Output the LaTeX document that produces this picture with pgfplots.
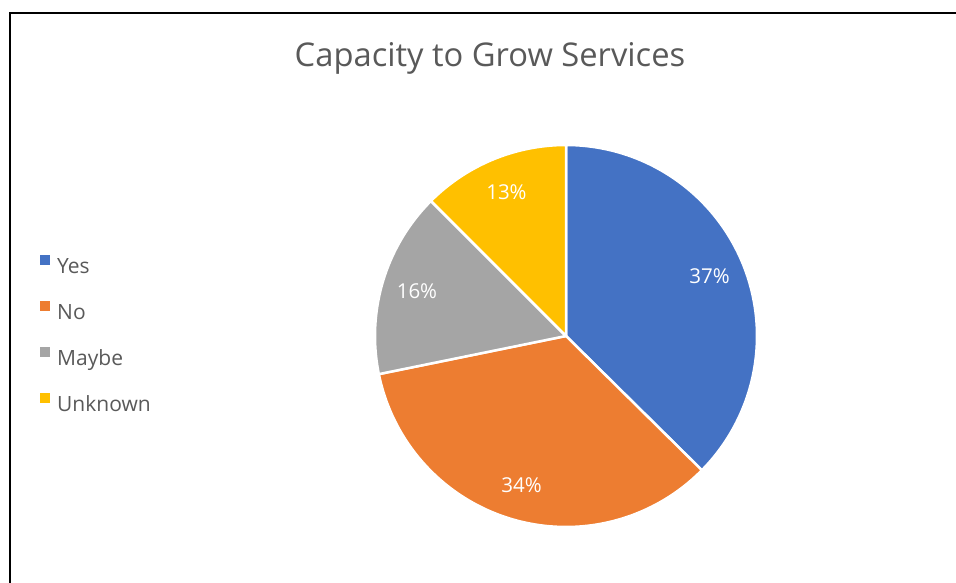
\documentclass[border=0pt]{standalone}
\usepackage{pgfplots}
\pgfplotsset{compat=1.18}
\usepackage{pgfplotstable}
\usepackage{fontspec}
\setmainfont{Open Sans}
\definecolor{pieBlue}{HTML}{4472C4}
\definecolor{pieOrange}{HTML}{ED7D31}
\definecolor{pieGray}{HTML}{A5A5A5}
\definecolor{pieGold}{HTML}{FFC000}
\definecolor{txt}{HTML}{595959}

\pgfplotstableread[col sep=comma]{
name,value,label,color
Yes,37.4,37,pieBlue
No,34.4,34,pieOrange
Maybe,15.7,16,pieGray
Unknown,12.5,13,pieGold
}\piedata

\begin{document}
\begin{tikzpicture}
\useasboundingbox (0pt,0pt) rectangle (956pt,583pt);
\begin{axis}[
  at={(375pt,56pt)}, anchor=south west, scale only axis,
  width=382pt, height=382pt,
  xmin=-1, xmax=1, ymin=-1, ymax=1,
  hide axis, clip=false,
  legend style={at={(axis description cs:-0.877,0.501)}, anchor=west,
    draw=none, fill=none, font=\fontsize{21}{25}\selectfont, text=txt,
    row sep=23pt, inner sep=0pt,
    nodes={inner sep=0pt, text height=17pt, text depth=5pt},
    /tikz/every odd column/.append style={column sep=7pt}},
  legend cell align=left,
  legend image code/.code={\fill[#1,draw=none] (0pt,2.5pt) rectangle (10pt,12pt);},
]
\def\cum{0}
\pgfplotsforeachungrouped \i in {0,1,2,3}{%
  \pgfplotstablegetelem{\i}{value}\of\piedata \let\v\pgfplotsretval
  \pgfplotstablegetelem{\i}{label}\of\piedata \let\lab\pgfplotsretval
  \pgfplotstablegetelem{\i}{name}\of\piedata \let\nm\pgfplotsretval
  \pgfplotstablegetelem{\i}{color}\of\piedata \let\col\pgfplotsretval
  \pgfmathsetmacro\a{90-3.6*\cum}%
  \pgfmathsetmacro\b{90-3.6*(\cum+\v)}%
  \pgfmathsetmacro\m{(\a+\b)/2}%
  \pgfmathsetmacro\lx{0.815*cos(\m)}%
  \pgfmathsetmacro\ly{0.815*sin(\m)}%
  \pgfmathsetmacro\cum{\cum+\v}%
  \edef\doplot{%
    \noexpand\addplot[fill=\col, draw=white, line width=2.5pt, line join=round,
      domain=\b:\a, samples=100] ({cos(x)},{sin(x)}) -- (axis cs:0,0) -- cycle;
    \noexpand\addlegendentry{\nm}
    \noexpand\node[text=white, font=\noexpand\fontsize{20.5}{24}\noexpand\selectfont]
      at (axis cs:\lx,\ly) {\lab\noexpand\%};
  }\doplot
}
\end{axis}
\draw[line width=2pt] (10pt,-20pt) -- (10pt,570pt) -- (980pt,570pt);
\node[anchor=base, inner sep=0pt, font=\fontsize{32.7}{38}\selectfont, text=txt] at (490pt,516.3pt) {Capacity to Grow Services};
\end{tikzpicture}
\end{document}
